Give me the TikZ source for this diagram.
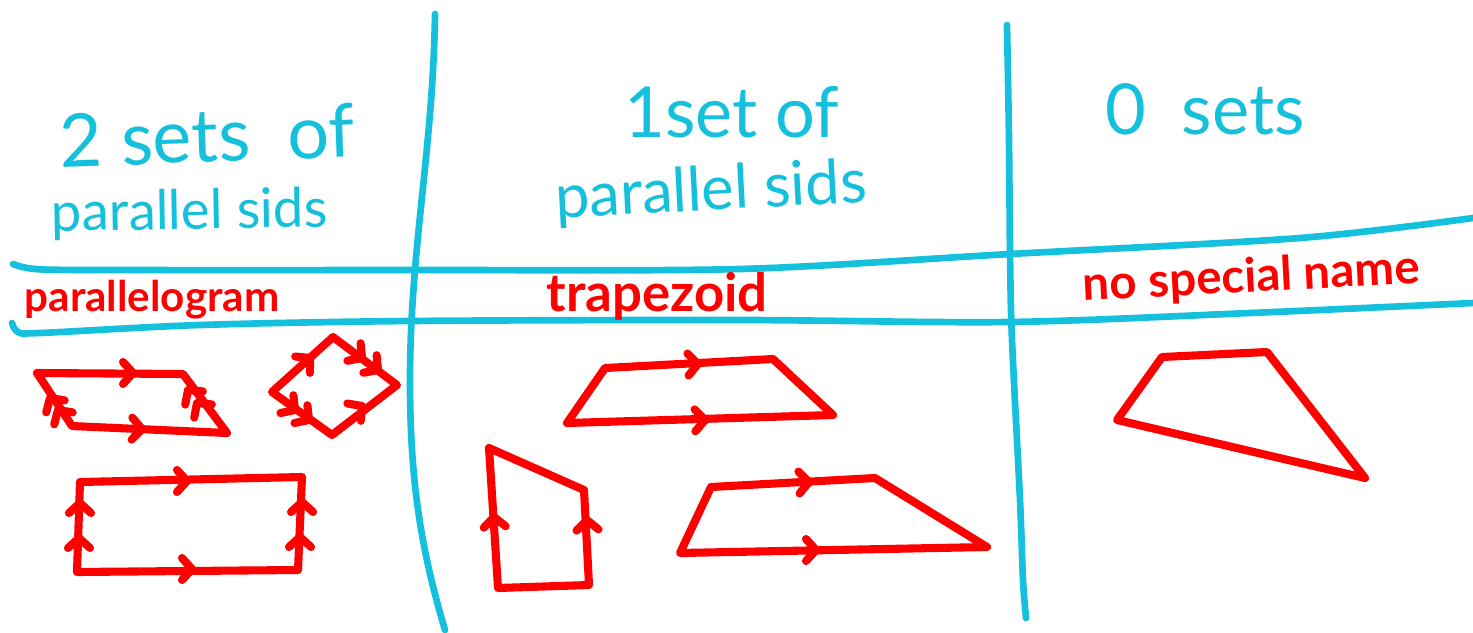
\documentclass[tikz,border=0pt]{standalone}
\usepackage{fontspec}
\setmainfont{Lato}

\definecolor{boardcyan}{RGB}{20,192,220}
\definecolor{markred}{RGB}{255,0,0}

\tikzset{
  gridline/.style={boardcyan, line width=3.8pt, line cap=round, line join=round},
  shapeline/.style={markred, line width=4.6pt, line cap=round, line join=round},
  heading/.style={text=boardcyan, inner sep=0pt, anchor=base},
  redname/.style={text=markred, inner sep=0pt, anchor=base}
}

% parallel mark: tip at (#1,#2), pointing at angle #3
\newcommand{\chev}[3]{\draw[shapeline, shift={(#1,#2)}, rotate=#3] (-10,-11) -- (0,0) -- (-10,11);}

\begin{document}
\begin{tikzpicture}[x=0.02cm, y=-0.02cm]
\useasboundingbox (0,0) rectangle (1473,632);

% table lines
\draw[gridline] (435,14) .. controls (433,150) and (410,250) .. (410,380) .. controls (410,470) and (418,540) .. (445,630);
\draw[gridline] plot[smooth] coordinates {(1007,25) (1009,140) (1010,253) (1012,340) (1020,500) (1023,580) (1026,618)};
\draw[gridline] plot[smooth] coordinates {(13,264) (35,269) (100,270) (415,270) (740,269) (1010,254) (1300,238) (1473,218)};
\draw[gridline] plot[smooth] coordinates {(12,323) (18,332) (40,333) (200,325) (410,321) (740,320) (1010,322) (1250,313) (1473,303)};

% column headings
\node[heading, font=\fontsize{42}{48}\selectfont, rotate=2] (twosets) at (208,162) {2 sets\ \ of};
\node[heading, font=\fontsize{31}{36}\selectfont, rotate=1] (twosides) at (190,229) {parallel sids};
\node[heading, font=\fontsize{40}{46}\selectfont] (oneset) at (732,137) {1set of};
\node[heading, font=\fontsize{35}{40}\selectfont, rotate=3] (onesides) at (712,210) {parallel sids};
\node[heading, font=\fontsize{40}{46}\selectfont] (zerosets) at (1205,134) {0\ \ sets};

\node[redname, font=\bfseries\fontsize{24}{28}\selectfont] (paraname) at (152,311) {parallelogram};
\node[redname, font=\bfseries\fontsize{30}{34}\selectfont] (trapname) at (657,311) {trapezoid};
\node[redname, font=\bfseries\fontsize{27}{32}\selectfont, rotate=3] (noname) at (1252,292) {no special name};

% parallelograms
\draw[shapeline] (37,373) -- (183,374) -- (227,433) -- (72,426) -- cycle;
\chev{133}{373}{0}
\chev{142}{429}{-2}
\chev{50}{398}{123} \chev{58}{410}{123}
\chev{188}{390}{127} \chev{197}{403}{127}

\draw[shapeline] (272,392) -- (333,337) -- (397,385) -- (332,435) -- cycle;
\chev{310}{358}{42}
\chev{362}{358}{-37} \chev{378}{370}{-37}
\chev{295}{410}{-36} \chev{309}{420}{-36}
\chev{362}{406}{38}

\draw[shapeline] (80,482) -- (302,477) -- (298,570) -- (77,572) -- cycle;
\chev{187}{481}{0}
\chev{192}{569}{0}
\chev{80}{503}{90} \chev{79}{538}{90}
\chev{302}{502}{90} \chev{300}{537}{90}

% trapezoids
\draw[shapeline] (605,368) -- (773,359) -- (833,415) -- (567,423) -- cycle;
\chev{698}{364}{3}
\chev{705}{420}{2}

\draw[shapeline] (489,448) -- (584,490) -- (589,585) -- (498,588) -- cycle;
\chev{494}{517}{94}
\chev{587}{520}{93}

\draw[shapeline] (711,487) -- (875,478) -- (987,547) -- (680,553) -- cycle;
\chev{809}{482}{3}
\chev{816}{550}{0}

% no parallel sides
\draw[shapeline] (1162,357) -- (1267,352) -- (1365,478) -- (1117,420) -- cycle;

\end{tikzpicture}
\end{document}
